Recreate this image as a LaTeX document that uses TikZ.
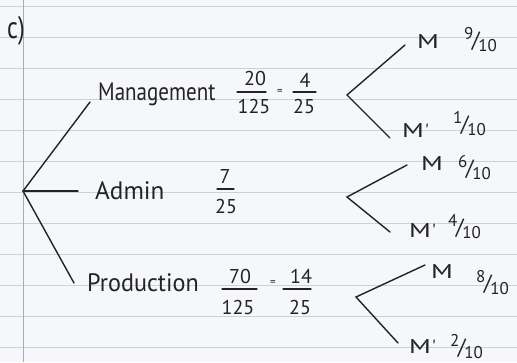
\documentclass[tikz,border=0pt]{standalone}
\usepackage{fontspec}
\setmainfont{PT Sans}
\definecolor{inkc}{HTML}{232323}
\definecolor{paperc}{HTML}{F6F7FA}
\definecolor{rulec}{HTML}{CDD1D8}
\definecolor{marginc}{HTML}{A9ADB3}
\newcommand{\slfr}[2]{\raisebox{8pt}{#1}\kern-1.5pt{\fontsize{22}{22}\selectfont/}\kern-1.5pt\raisebox{-4pt}{#2}}
\newcommand{\wideM}{\scalebox{1.45}[1.05]{M}}
\begin{document}
\begin{tikzpicture}[x=1pt,y=-1pt,
  ink/.style={draw=inkc, line width=1.4pt, line cap=round},
  fbar/.style={draw=inkc, line width=1.1pt, line cap=round},
  word/.style={text=inkc, font=\fontsize{21}{24}\selectfont, inner sep=0pt, anchor=base west},
  num/.style={text=inkc, font=\fontsize{20}{22}\selectfont, inner sep=0pt, anchor=base},
  eqs/.style={text=inkc, font=\fontsize{11}{12}\selectfont, inner sep=0pt},
  mlab/.style={text=inkc, font=\fontsize{19}{20}\selectfont, inner sep=0pt, anchor=base west},
  plab/.style={text=inkc, font=\fontsize{17}{18}\selectfont, inner sep=0pt, anchor=base west}
]
\fill[paperc] (0,0) rectangle (517,362);
\useasboundingbox (0,0) rectangle (517,362);
\foreach \yy in {6,37,68,99,130,161,192,223,254,285,316,347}
  \draw[rulec, line width=0.6pt] (0,\yy) -- (517,\yy);
\draw[marginc, line width=0.6pt] (23,0) -- (23,362);

% part label
\node[text=inkc, font=\fontsize{24}{26}\selectfont, inner sep=0pt, anchor=base west] (part) at (7,38) {\scalebox{1}[1.3]{c)}};

% first level
\coordinate (root) at (23,191);
\coordinate (eMan) at (90,102);
\coordinate (eAdm) at (78,191);
\coordinate (ePro) at (74,283);
\draw[ink] (eMan) -- (root) -- (ePro);
\draw[ink] (root) -- (eAdm);

\node[word] (man) at (98,100) {\scalebox{1}[1.2]{Management}};
\node[word] (adm) at (95,199) {\scalebox{1.2}[1.2]{Admin}};
\node[word] (pro) at (87,291) {\scalebox{1.15}[1.2]{Production}};

% fractions: management
\node[num] (manN1) at (255,85) {20};
\node[num] (manD1) at (254,113) {125};
\draw[fbar] (237,92) -- (266,92);
\node[eqs] (manEq) at (280,92) {=};
\node[num] (manN2) at (305,87) {4};
\node[num] (manD2) at (304,113) {25};
\draw[fbar] (293,92) -- (316,92);

% fractions: admin
\node[num] (admN) at (225,183) {7};
\node[num] (admD) at (226,213) {25};
\draw[fbar] (217,189) -- (234,189);

% fractions: production
\node[num] (proN1) at (240,283) {70};
\node[num] (proD1) at (238,314) {125};
\draw[fbar] (222,289) -- (257,289);
\node[eqs] (proEq) at (273,283) {=};
\node[num] (proN2) at (301,283) {14};
\node[num] (proD2) at (300,314) {25};
\draw[fbar] (283,289) -- (311,289);

% second level: management
\coordinate (vMan) at (347,95);
\coordinate (uMan) at (405,45);
\coordinate (dMan) at (390,138);
\draw[ink] (uMan) -- (vMan) -- (dMan);
\node[mlab] (mMan) at (417,48) {\wideM};
\node[plab] (pMan) at (464,47) {\slfr{9}{10}};
\node[mlab] (mpMan) at (402,137) {\wideM\kern1pt\textquotesingle};
\node[plab] (ppMan) at (453,131) {\slfr{1}{10}};

% second level: admin
\coordinate (vAdm) at (347,197);
\coordinate (uAdm) at (407,165);
\coordinate (dAdm) at (390,232);
\draw[ink] (uAdm) -- (vAdm) -- (dAdm);
\node[mlab] (mAdm) at (421,170) {\wideM};
\node[plab] (pAdm) at (458,175) {\slfr{6}{10}};
\node[mlab] (mpAdm) at (409,237) {\wideM\kern1pt\textquotesingle};
\node[plab] (ppAdm) at (448,234) {\slfr{4}{10}};

% second level: production
\coordinate (vPro) at (356,297);
\coordinate (uPro) at (425,265);
\coordinate (dPro) at (398,343);
\draw[ink] (uPro) -- (vPro) -- (dPro);
\node[mlab] (mPro) at (431,278) {\wideM};
\node[plab] (pPro) at (476,290) {\slfr{8}{10}};
\node[mlab] (mpPro) at (409,353) {\wideM\kern1pt\textquotesingle};
\node[plab] (ppPro) at (450,354) {\slfr{2}{10}};
\end{tikzpicture}
\end{document}
